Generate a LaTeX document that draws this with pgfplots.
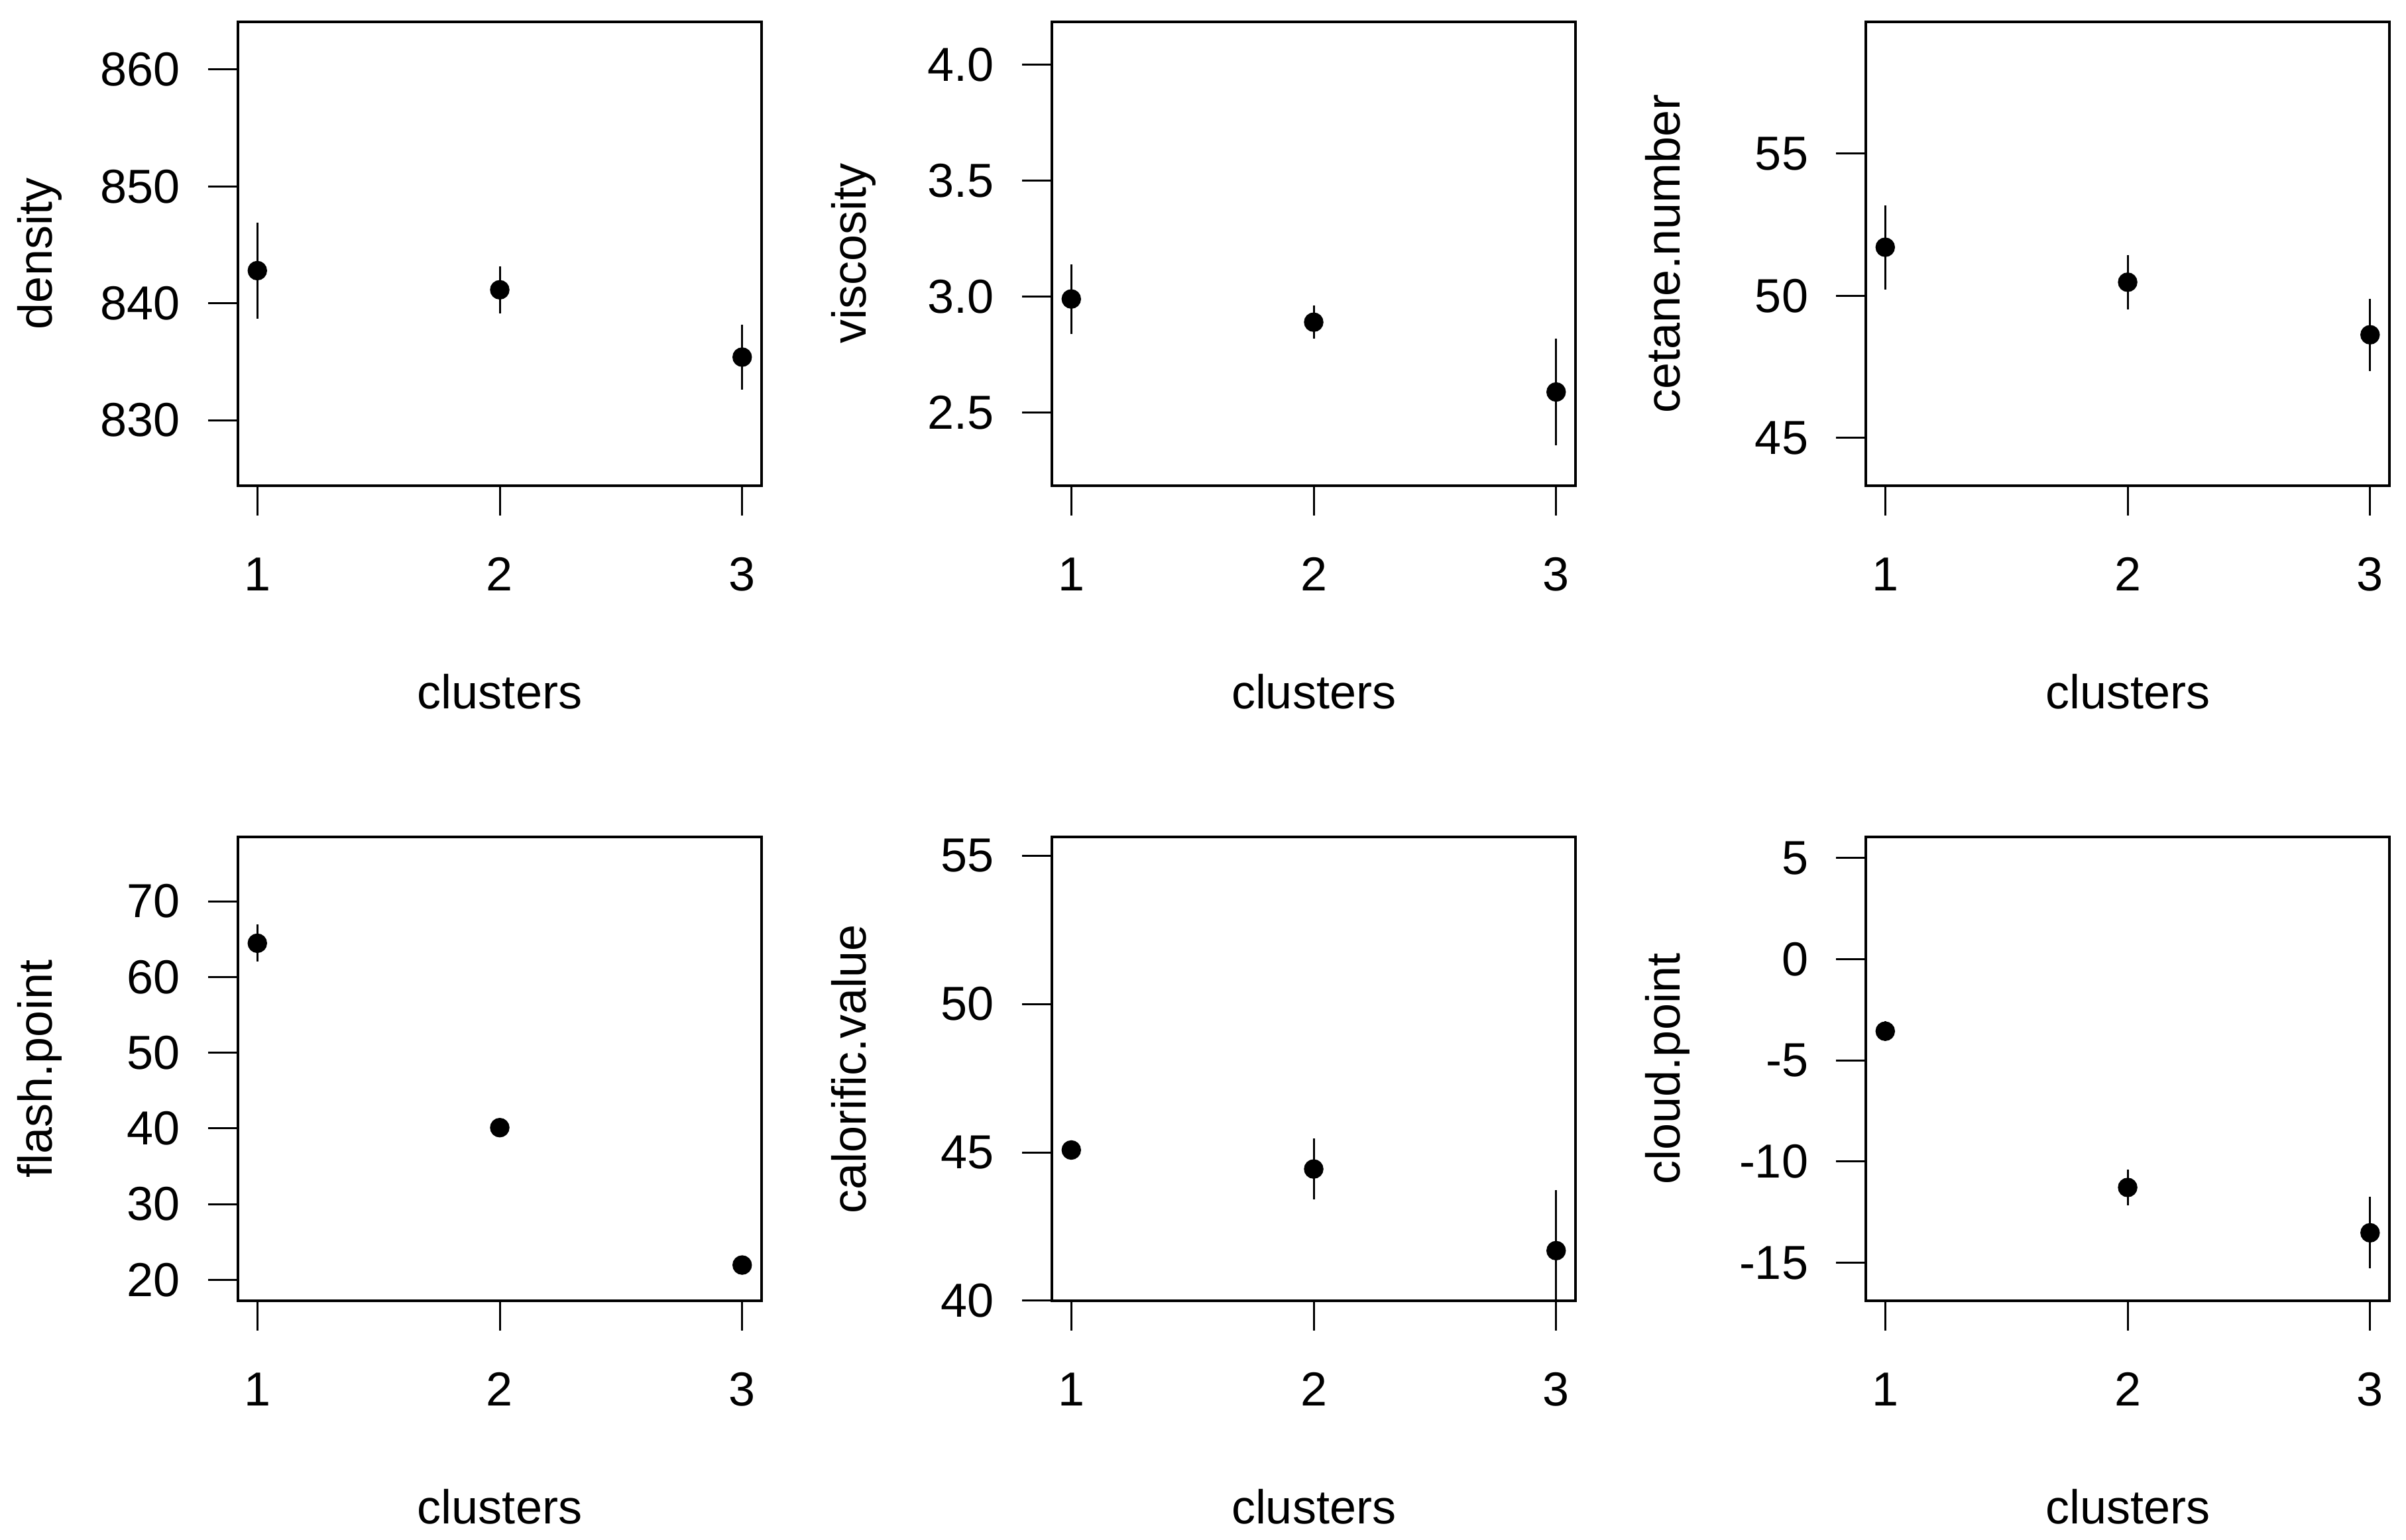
\documentclass[border=0pt]{standalone}
\usepackage{pgfplots}
\pgfplotsset{compat=1.18}
\usepackage{fontspec}
\setmainfont{Liberation Sans}
\newcommand{\rf}{\fontsize{7.2}{8.6}\selectfont}
\pgfplotsset{
  rpanel/.style={
    scale only axis, width=79pt, height=70pt,
    anchor=south west,
    xmin=0.92, xmax=3.08,
    xtick={1,2,3}, xticklabels={1,2,3},
    tick align=outside, xtick pos=bottom, ytick pos=left,
    major tick length=4.5pt,
    axis line style={line width=0.45pt},
    every tick/.style={black, line width=0.3pt},
    tick label style={font=\rf, inner sep=0pt},
    xticklabel style={anchor=base, yshift=-11.35pt},
    yticklabel style={anchor=east, xshift=-4.0pt},
    label style={font=\rf, inner sep=0pt},
    xlabel={clusters},
    xlabel style={at={(axis description cs:0.5,-0.4807)}, anchor=base},
    ylabel style={at={(axis description cs:-0.3557,0.5)}, anchor=base},
  },
  rpt/.style={black, only marks, mark=*, mark size=1.27pt,
    mark options={solid, fill=black},
    error bars/y dir=both, error bars/y explicit, error bars/error mark=none,
    error bars/error bar style={line width=0.3pt, black}},
}
\begin{document}
\begin{tikzpicture}
\useasboundingbox (0,0) rectangle (363pt,232.3pt);
% density
\begin{axis}[rpanel, at={(35.9pt,159pt)}, ymin=824.4, ymax=864.08,
  ytick={830,840,850,860}, yticklabels={830,840,850,860}, ylabel={density}]
\addplot[rpt] coordinates {(1,842.8) +- (0,4.1) (2,841.16) +- (0,2.0) (3,835.4) +- (0,2.8)};
\end{axis}
% viscosity
\begin{axis}[rpanel, at={(158.7pt,159pt)}, ymin=2.185, ymax=4.185,
  ytick={2.5,3.0,3.5,4.0}, yticklabels={2.5,3.0,3.5,4.0}, ylabel={viscosity}]
\addplot[rpt] coordinates {(1,2.99) +- (0,0.15) (2,2.89) +- (0,0.072) (3,2.589) +- (0,0.23)};
\end{axis}
% cetane
\begin{axis}[rpanel, at={(281.5pt,159pt)}, ymin=43.32, ymax=59.64,
  ytick={45,50,55}, yticklabels={45,50,55}, ylabel={cetane.number}]
\addplot[rpt] coordinates {(1,51.71) +- (0,1.48) (2,50.48) +- (0,0.95) (3,48.63) +- (0,1.27)};
\end{axis}
% flash point
\begin{axis}[rpanel, at={(35.9pt,36pt)}, ymin=17.23, ymax=78.5,
  ytick={20,30,40,50,60,70}, yticklabels={20,30,40,50,60,70}, ylabel={flash.point}]
\addplot[rpt] coordinates {(1,64.46) +- (0,2.45) (2,40.1) +- (0,0.3) (3,21.95) +- (0,0.3)};
\end{axis}
% calorific value
\begin{axis}[rpanel, at={(158.7pt,36pt)}, ymin=40, ymax=55.63,
  ytick={40,45,50,55}, yticklabels={40,45,50,55}, ylabel={calorific.value}]
\addplot[rpt] coordinates {(1,45.08) +- (0,0.1) (2,44.44) +- (0,1.02) (3,41.69) +- (0,2.04)};
\end{axis}
% cloud point
\begin{axis}[rpanel, at={(281.5pt,36pt)}, ymin=-16.88, ymax=6.04,
  ytick={-15,-10,-5,0,5}, yticklabels={-15,-10,-5,0,5}, ylabel={cloud.point}]
\addplot[rpt] coordinates {(1,-3.56) +- (0,0.5) (2,-11.28) +- (0,0.89) (3,-13.52) +- (0,1.77)};
\end{axis}
\end{tikzpicture}
\end{document}
